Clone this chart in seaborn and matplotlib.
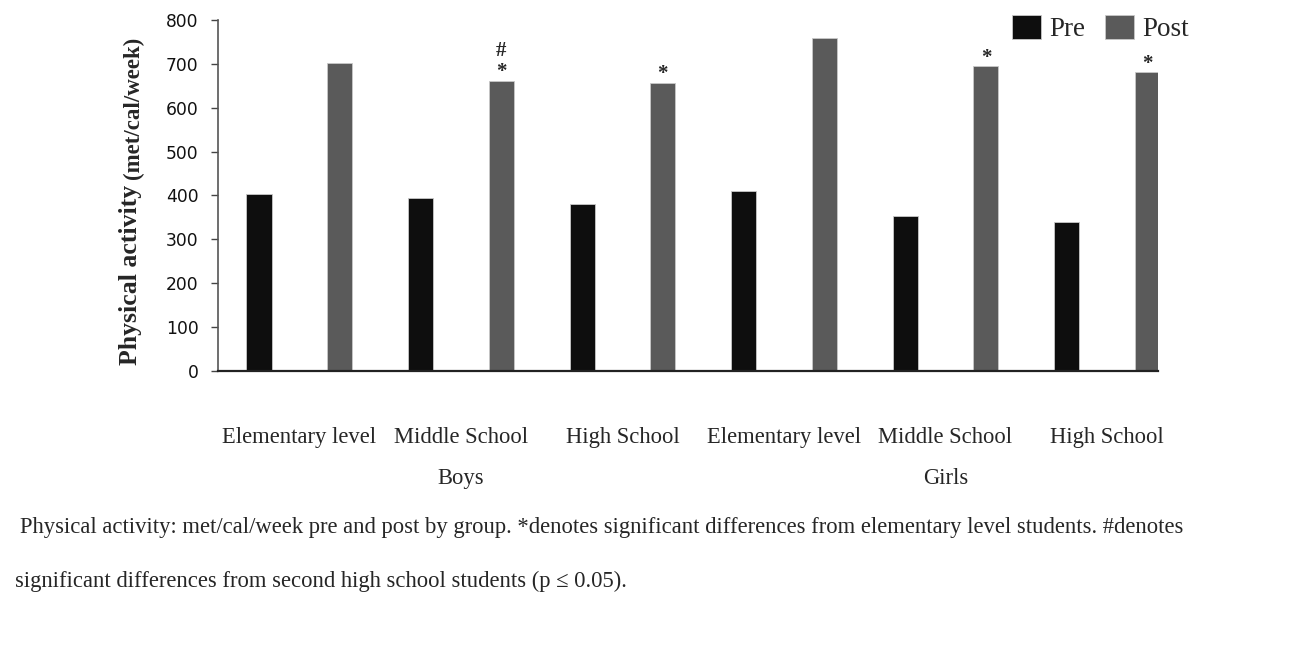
import pandas as pd
import numpy as np
import matplotlib.pyplot as plt
import seaborn as sns

# Values
groups = ["Elementary level", "Middle School", "High School",
          "Elementary level", "Middle School", "High School"]
sexes = ["Boys", "Boys", "Boys", "Girls", "Girls", "Girls"]
pre_values = [404, 394, 380, 411, 353, 339]
post_values = [701, 661, 656, 760, 694, 681]
marks = ["", "*\n#", "*", "", "*", "*"]  # significance marks over Post bars (bottom to top)

# one row per bar, so every bar gets its own slot on the x axis
rows = []
for i, (g, s) in enumerate(zip(groups, sexes)):
    rows.append({"bar": f"{s} {g} Pre", "value": pre_values[i], "phase": "Pre"})
    rows.append({"bar": f"{s} {g} Post", "value": post_values[i], "phase": "Post"})
df = pd.DataFrame(rows)

sns.set_style("white")
plt.rcParams["font.family"] = ["DejaVu Sans"]

fig = plt.figure(figsize=(12.96, 6.57), dpi=100)
ax = fig.add_axes([0.1682, 0.4353, 0.7253, 0.5343])

sns.barplot(data=df, x="bar", y="value", hue="phase", dodge=False, width=0.31,
            palette={"Pre": "#0e0e0e", "Post": "#5a5a5a"}, edgecolor="#c8c8c8",
            linewidth=0.6, ax=ax)

ax.set_ylim(0, 800)
ax.set_xlim(-0.508, 11.13)
ax.set_yticks(range(0, 801, 100))
ax.tick_params(axis="y", labelsize=12.3, length=5, width=1, color="#444444",
               pad=9, labelcolor="#111111", left=True)
ax.set_xticks([2 * i + 0.5 for i in range(6)])
ax.set_xticklabels(groups, family="Liberation Serif", fontsize=16.3)
ax.tick_params(axis="x", length=0, pad=40)
ax.set_xlabel("")
ax.set_ylabel("")
for side in ["top", "right"]:
    ax.spines[side].set_visible(False)
ax.spines["left"].set_color("#555555")
ax.spines["left"].set_linewidth(1.2)
ax.spines["bottom"].set_color("#222222")
ax.spines["bottom"].set_linewidth(1.6)

# Boys / Girls under the middle group of each half
for pos, name in [(2.5, "Boys"), (8.5, "Girls")]:
    ax.text(pos, -0.305, name, transform=ax.get_xaxis_transform(), ha="center",
            va="center", family="Liberation Serif", fontsize=16.3)

# significance marks
for i, m in enumerate(marks):
    if not m:
        continue
    y = post_values[i]
    for k, ch in enumerate(m.split("\n")):
        ax.text(2 * i + 1, y - 3 + k * 48, ch, ha="center", va="bottom",
                family="Liberation Serif", fontsize=15, fontweight="bold")

# y label: big bold part plus smaller unit part
fig.text(131 / 1296, 1 - 275 / 657, "Physical activity", rotation=90, ha="center",
         va="center", family="Liberation Serif", fontweight="bold", fontsize=18.5)
fig.text(133 / 1296, 1 - 108 / 657, "(met/cal/week)", rotation=90, ha="center",
         va="center", family="Liberation Serif", fontweight="bold", fontsize=16.5)

sns.move_legend(ax, "upper right", bbox_to_anchor=(1.059, 1.083), ncol=2,
                frameon=False, title=None,
                prop={"family": "Liberation Serif", "size": 19.5},
                handlelength=1.1, handleheight=0.95, handletextpad=0.3,
                columnspacing=0.7)

caption1 = ("Physical activity: met/cal/week pre and post by group. *denotes significant "
            "differences from elementary level students. #denotes")
caption2 = "significant differences from second high school students (p \u2264 0.05)."
fig.text(20 / 1296, 1 - 527 / 657, caption1, ha="left", va="center",
         family="Liberation Serif", fontsize=16.3)
fig.text(15 / 1296, 1 - 581 / 657, caption2, ha="left", va="center",
         family="Liberation Serif", fontsize=16.3)

plt.savefig("out.png", dpi=100)
